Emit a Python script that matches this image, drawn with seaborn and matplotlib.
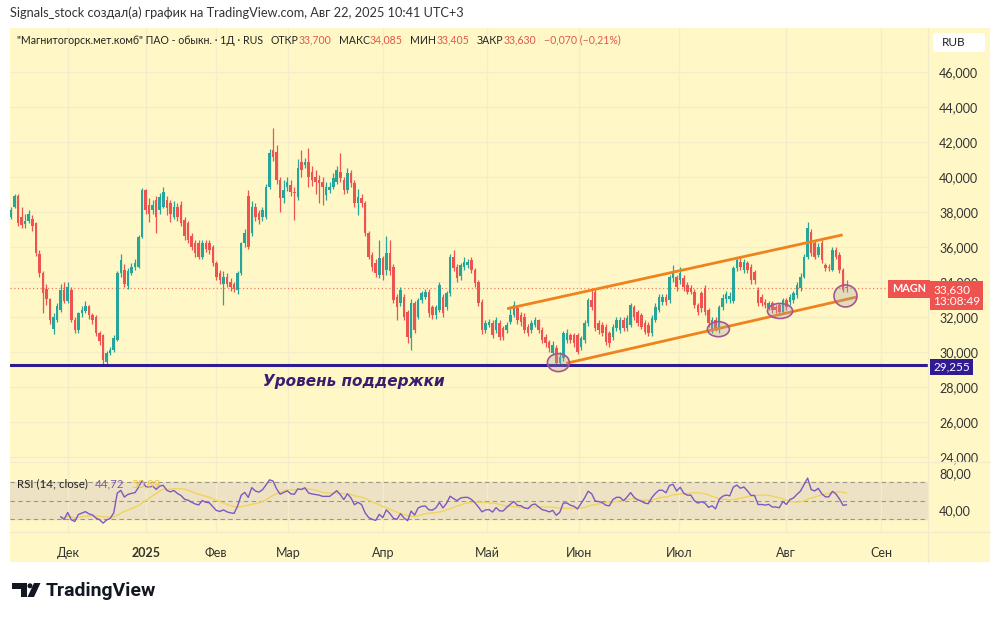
import matplotlib
matplotlib.use("Agg")
import matplotlib.pyplot as plt
from matplotlib.patches import Ellipse, Rectangle, Polygon, FancyBboxPatch
from matplotlib.lines import Line2D
from matplotlib.offsetbox import TextArea, HPacker, AnchoredOffsetbox
import numpy as np
import pandas as pd
import seaborn as sns

sns.set_theme(style="white")
plt.rcParams['font.family'] = ['Lato', 'DejaVu Sans']

# ======== data, daily bars ========
opens = [
    37.73, 38.30, 38.90, 37.70, 37.30, 37.50, 37.60, 37.35, 35.60, 34.50,
    33.60, 33.00, 31.30, 31.80, 32.40, 33.55, 32.90, 33.55, 31.83, 31.26,
    32.20, 32.35, 32.60, 32.10, 32.00, 31.07, 30.97, 29.45, 29.93, 30.10,
    30.70, 34.50, 34.70, 33.75, 34.50, 34.88, 34.88, 36.59, 39.26, 38.40,
    38.10, 38.70, 38.10, 38.30, 38.70, 38.50, 37.73, 38.30, 38.40, 37.55,
    37.35, 36.60, 36.20, 36.20, 35.45, 36.20, 36.20, 36.00, 35.07, 34.50,
    33.90, 34.30, 34.00, 33.90, 33.55, 34.50, 36.20, 38.90, 36.78, 38.30,
    37.92, 37.73, 37.73, 39.45, 41.54, 41.45, 39.83, 38.78, 39.45, 39.54,
    39.16, 38.88, 40.88, 40.69, 40.88, 40.30, 40.02, 39.83, 39.73, 38.97,
    39.26, 39.45, 39.73, 40.30, 39.83, 39.26, 40.21, 39.64, 38.50, 38.78,
    38.50, 36.78, 35.54, 35.07, 34.40, 35.35, 34.69, 35.64, 34.88, 33.16,
    32.78, 33.16, 32.30, 30.78, 32.78, 32.02, 32.97, 33.16, 33.45, 32.59,
    32.11, 32.40, 33.16, 32.59, 33.35, 35.45, 34.88, 34.31, 34.88, 34.97,
    35.26, 34.69, 34.02, 32.88, 31.26, 31.54, 31.64, 31.26, 31.64, 31.35,
    31.26, 31.73, 32.11, 32.49, 32.11, 32.02, 31.45, 31.26, 31.54, 31.83,
    31.26, 30.88, 30.59, 29.92, 30.21, 29.35, 29.64, 30.69, 30.97, 30.97,
    30.97, 30.30, 30.69, 31.64, 32.97, 33.45, 31.64, 31.54, 31.45, 31.07,
    30.88, 31.35, 31.26, 31.83, 31.35, 31.54, 32.59, 32.30, 32.11, 31.64,
    31.54, 31.07, 31.83, 32.40, 32.87, 33.16, 32.97, 34.21, 34.30, 34.11,
    34.21, 33.83, 33.64, 33.45, 32.68, 33.35, 33.64, 32.40, 31.26, 31.83,
    31.26, 32.55, 33.00, 33.00, 32.90, 34.78, 35.16, 34.69, 35.07, 34.88,
    34.59, 33.54, 33.16, 32.88, 32.50, 32.78, 32.59, 32.69, 32.30, 32.97,
    32.88, 32.97, 33.26, 33.64, 34.30, 35.45, 36.88, 36.21, 35.54, 36.21,
    34.97, 34.88, 34.69, 35.83, 35.54, 34.69, 33.70,
]
closes = [
    38.10, 38.90, 37.35, 37.25, 37.50, 37.90, 37.20, 35.64, 34.50, 33.35,
    33.00, 31.85, 32.00, 32.60, 33.55, 32.90, 33.70, 31.83, 31.26, 32.20,
    32.40, 32.60, 32.10, 31.83, 31.07, 30.60, 29.55, 29.93, 30.10, 30.78,
    34.50, 35.26, 33.90, 34.60, 34.88, 35.07, 36.59, 39.26, 38.10, 37.90,
    38.40, 37.73, 38.88, 39.15, 38.20, 37.90, 38.30, 37.73, 37.35, 36.60,
    36.40, 36.00, 35.64, 35.45, 36.20, 35.90, 35.80, 35.07, 34.30, 34.10,
    34.30, 33.90, 33.70, 33.60, 34.50, 36.20, 36.78, 36.00, 38.30, 37.73,
    37.54, 38.10, 39.45, 41.35, 41.16, 39.83, 38.78, 39.26, 39.73, 39.16,
    39.07, 40.50, 40.40, 40.88, 40.02, 39.83, 39.73, 39.64, 39.45, 39.45,
    39.45, 39.92, 40.40, 39.92, 39.26, 40.21, 39.64, 38.50, 38.88, 38.50,
    36.78, 35.45, 34.88, 34.50, 35.35, 34.40, 35.64, 34.60, 32.97, 32.59,
    33.54, 32.02, 30.88, 32.78, 31.26, 32.97, 33.35, 33.45, 32.21, 32.11,
    32.59, 33.83, 32.21, 33.35, 35.45, 34.78, 34.21, 34.97, 35.16, 35.16,
    34.69, 33.92, 32.78, 31.26, 31.64, 31.73, 30.97, 31.83, 30.88, 30.88,
    31.54, 32.11, 32.68, 31.83, 31.73, 31.26, 31.07, 31.64, 31.83, 31.26,
    30.69, 30.50, 30.21, 30.40, 29.35, 29.73, 31.07, 31.07, 30.69, 30.50,
    30.02, 30.78, 31.64, 32.97, 32.59, 31.35, 31.26, 31.07, 30.59, 30.50,
    31.45, 31.83, 31.83, 31.35, 31.92, 32.68, 32.02, 31.64, 31.45, 31.16,
    31.07, 31.92, 32.59, 33.16, 33.16, 32.87, 34.30, 34.50, 33.73, 34.50,
    33.73, 33.45, 33.45, 32.68, 32.30, 32.49, 32.30, 31.64, 31.83, 31.35,
    32.59, 33.10, 33.30, 33.20, 34.78, 35.26, 34.88, 35.16, 34.69, 34.11,
    34.11, 32.78, 32.78, 32.69, 32.78, 32.40, 32.40, 32.30, 32.97, 32.59,
    33.16, 33.35, 33.83, 34.30, 35.45, 37.07, 35.64, 35.45, 36.02, 35.26,
    34.78, 34.78, 35.83, 35.45, 34.69, 33.54, 33.63,
]
highs = [
    38.30, 39.05, 39.00, 38.30, 37.90, 38.10, 37.80, 37.45, 35.80, 34.60,
    33.90, 33.10, 32.20, 32.80, 33.90, 34.00, 34.00, 33.70, 32.00, 32.30,
    32.60, 32.90, 32.70, 32.20, 32.10, 31.20, 31.00, 30.05, 30.30, 30.95,
    34.60, 35.60, 35.00, 34.80, 35.10, 35.30, 36.70, 39.35, 39.30, 38.80,
    38.70, 38.90, 39.10, 39.45, 38.90, 38.70, 38.60, 38.50, 38.60, 37.70,
    37.50, 36.80, 36.40, 36.40, 36.40, 36.40, 36.40, 36.10, 35.20, 34.70,
    34.60, 34.50, 34.20, 34.00, 34.60, 36.30, 37.00, 39.26, 38.60, 38.50,
    38.10, 38.30, 39.60, 41.60, 42.78, 41.80, 40.00, 39.80, 40.00, 39.80,
    39.40, 41.00, 41.54, 41.10, 41.64, 40.60, 40.40, 40.10, 40.00, 39.70,
    39.70, 40.20, 40.60, 41.35, 40.00, 40.50, 40.40, 39.80, 39.30, 39.00,
    38.60, 36.90, 35.70, 35.30, 36.40, 35.50, 36.60, 36.40, 35.00, 33.30,
    33.70, 33.30, 32.40, 33.00, 32.90, 33.10, 33.50, 33.60, 33.60, 32.70,
    32.70, 34.00, 33.30, 33.50, 35.60, 35.80, 35.00, 35.10, 35.40, 35.30,
    35.40, 34.80, 34.10, 33.00, 31.80, 31.90, 31.80, 32.00, 31.80, 31.50,
    31.70, 32.60, 32.90, 32.60, 32.30, 32.20, 31.60, 31.80, 32.00, 31.90,
    31.40, 31.00, 30.70, 30.60, 30.40, 30.00, 31.20, 31.30, 31.10, 31.10,
    31.10, 30.90, 31.80, 33.10, 33.64, 33.64, 31.80, 31.70, 31.60, 31.20,
    31.60, 32.00, 32.00, 32.00, 32.10, 32.80, 32.70, 32.40, 32.20, 31.80,
    31.70, 32.10, 32.80, 33.30, 33.30, 33.30, 34.40, 34.97, 34.40, 34.88,
    34.40, 34.00, 33.80, 33.60, 32.80, 33.50, 33.80, 32.50, 32.00, 32.00,
    32.70, 33.30, 33.50, 33.40, 34.90, 35.45, 35.40, 35.30, 35.20, 35.00,
    34.70, 33.70, 33.30, 33.00, 32.90, 32.90, 32.70, 32.80, 33.10, 33.10,
    33.30, 33.50, 34.00, 34.50, 35.60, 37.45, 37.00, 36.40, 36.20, 36.40,
    35.10, 35.00, 36.00, 36.02, 35.70, 34.80, 34.085,
]
lows = [
    37.60, 38.20, 37.20, 37.10, 37.10, 37.35, 36.90, 35.50, 34.30, 32.20,
    32.70, 31.60, 31.05, 31.70, 32.30, 32.80, 32.80, 31.70, 31.10, 31.10,
    32.00, 32.20, 31.90, 31.60, 30.90, 30.40, 29.30, 29.30, 29.80, 30.00,
    30.60, 34.30, 33.70, 33.60, 34.40, 34.70, 34.80, 36.50, 37.90, 37.40,
    37.90, 36.80, 37.90, 38.20, 37.80, 37.40, 37.60, 37.50, 37.20, 36.40,
    36.20, 35.80, 35.40, 35.30, 35.30, 35.70, 35.60, 34.90, 34.10, 33.90,
    32.70, 33.70, 33.50, 33.40, 33.30, 34.40, 36.00, 35.90, 36.60, 37.50,
    37.30, 37.50, 37.60, 39.30, 40.90, 39.60, 38.00, 38.50, 39.20, 38.90,
    37.54, 38.70, 40.00, 40.50, 39.40, 39.50, 39.00, 38.50, 38.40, 38.70,
    39.10, 39.30, 39.60, 39.70, 39.00, 39.10, 39.40, 38.30, 37.80, 38.30,
    36.60, 35.30, 34.60, 34.30, 34.20, 34.10, 34.40, 34.40, 32.80, 31.80,
    32.60, 31.80, 30.50, 30.10, 31.10, 31.90, 32.80, 33.00, 32.00, 31.90,
    31.90, 32.30, 32.00, 32.40, 33.20, 34.60, 34.00, 34.10, 34.70, 34.80,
    34.50, 33.70, 32.60, 31.00, 31.10, 31.40, 30.80, 31.10, 30.70, 30.70,
    31.10, 31.60, 32.00, 31.60, 31.50, 31.10, 30.90, 31.10, 31.40, 31.10,
    30.50, 30.30, 30.00, 29.80, 29.25, 29.25, 29.50, 30.50, 30.50, 30.30,
    29.90, 30.10, 30.50, 31.50, 32.40, 31.20, 31.00, 30.90, 30.40, 30.30,
    30.70, 31.20, 31.10, 31.20, 31.20, 31.40, 31.80, 31.50, 31.30, 31.00,
    30.90, 30.90, 31.70, 32.30, 32.70, 32.70, 32.80, 34.00, 33.50, 33.90,
    33.50, 33.30, 33.30, 32.50, 32.10, 32.30, 32.10, 31.40, 31.10, 31.20,
    31.10, 32.40, 32.80, 32.80, 32.80, 34.60, 34.70, 34.50, 34.50, 33.90,
    33.90, 32.60, 32.60, 32.50, 32.40, 32.20, 32.20, 32.20, 32.20, 32.40,
    32.70, 32.80, 33.10, 33.50, 34.20, 35.30, 35.50, 35.30, 35.40, 35.10,
    34.60, 34.60, 34.60, 35.30, 34.50, 33.40, 33.405,
]

# month labels on the time scale (bar index where each month starts)
month_labels = ["Дек", "2025", "Фев", "Мар", "Апр", "Май", "Июн", "Июл", "Авг", "Сен"]
month_bars = [16.1, 38.1, 57.9, 78.2, 105.1, 134.5, 160.5, 188.7, 218.9, 245.8]

price_ticks = [24, 26, 28, 30, 32, 34, 36, 38, 40, 42, 44, 46]
support_level = 29.255
last_close = 33.63

# drawings on the chart: channel lines (bar, price) and circled lows
channel_upper = [(140.1, 32.47), (234.9, 36.69)]
channel_lower = [(156.8, 29.35), (238.9, 33.14)]
circle_bars = [154.6, 199.8, 217.2, 235.7]
circle_prices = [29.39, 31.30, 32.34, 33.20]
circle_w = [6.2, 6.2, 7.1, 6.5]
circle_h = [1.03, 0.86, 0.86, 1.26]

# ======== colors ========
BG = "#FFF8C6"
GRID = "#F3EDCB"
UP = "#26A69A"
DOWN = "#EF5350"
TXT = "#333333"
SUPPORT = "#311B92"

df = pd.DataFrame({"open": opens, "high": highs, "low": lows, "close": closes})
df["bar"] = np.arange(len(df))
df["up"] = df["close"] >= df["open"]

# RSI(14) Wilder + SMA 14 of RSI
delta = df["close"].diff()
gain = delta.clip(lower=0).ewm(alpha=1 / 14, min_periods=14).mean()
loss = (-delta.clip(upper=0)).ewm(alpha=1 / 14, min_periods=14).mean()
df["rsi"] = 100 - 100 / (1 + gain / loss)
df["rsi_ma"] = df["rsi"].rolling(14, min_periods=1).mean()


def fx(px):
    return px / 1000


def fy(py):
    return 1 - py / 619


fig = plt.figure(figsize=(10, 6.19), dpi=100)
fig.patch.set_facecolor("white")
fig.add_artist(Rectangle((fx(10), fy(562)), 0.98, 534 / 619, transform=fig.transFigure,
                         facecolor=BG, edgecolor="none", zorder=0))

ax = fig.add_axes([fx(10), fy(462), 0.918, 434 / 619])
ax_rsi = fig.add_axes([fx(10), fy(532), 0.918, 70 / 619], sharex=ax)
for a in (ax, ax_rsi):
    a.set_facecolor("none")
    for s in a.spines.values():
        s.set_visible(False)

# ======== candles ========
colors = np.where(df["up"], UP, DOWN)
ax.vlines(df["bar"], df["low"], df["high"], colors=colors, linewidth=0.9, zorder=3)
body_bottom = df[["open", "close"]].min(axis=1)
body_height = (df["close"] - df["open"]).abs().clip(lower=0.03)
ax.bar(df["bar"], body_height, bottom=body_bottom, width=0.72, color=colors,
       linewidth=0, zorder=4)

ax.set_xlim(-0.3, 259.0)
ax.set_ylim(23.71, 48.51)
ax.set_xticks(month_bars)
ax.tick_params(axis="x", labelbottom=False, length=0)
ax.yaxis.tick_right()
ax.set_yticks(price_ticks)
ax.set_yticklabels([f"{v:.3f}".replace(".", ",") for v in price_ticks])
ax.tick_params(axis="y", length=0, pad=8, labelsize=9, labelcolor=TXT)
ax.grid(True, color=GRID, linewidth=1.0, zorder=0)

# last price dotted line
ax.axhline(last_close, color="#EE7B5E", linestyle=(0, (1, 2)), linewidth=0.9, zorder=2)

# support level
ax.axhline(support_level, color=SUPPORT, linewidth=2.2, zorder=5)
ax.text(71.2, 28.29, "Уровень поддержки", family="DejaVu Sans", fontsize=11,
        fontweight="bold", fontstyle="italic", color="#3A1C71", va="center", ha="left",
        zorder=6)

# channel
for line in (channel_upper, channel_lower):
    ax.plot([p[0] for p in line], [p[1] for p in line], color="#F0821E", linewidth=2.0,
            solid_capstyle="butt", zorder=5)

# circled lows
for b, p, w, h in zip(circle_bars, circle_prices, circle_w, circle_h):
    ax.add_patch(Ellipse((b, p), w, h, facecolor=(0.62, 0.62, 0.66, 0.3),
                         edgecolor="#A8558F", linewidth=1.2, zorder=6))

# ======== RSI pane ========
ax_rsi.axhspan(30, 70, color="#EDE3C4", zorder=0)
for lvl in (70, 50, 30):
    ax_rsi.axhline(lvl, color="#9A968A", linewidth=0.8, linestyle=(0, (4, 3)), zorder=1)
sns.lineplot(data=df, x="bar", y="rsi_ma", ax=ax_rsi, color="#F2D35B", linewidth=1.0, zorder=2)
sns.lineplot(data=df, x="bar", y="rsi", ax=ax_rsi, color="#7E57C2", linewidth=1.0, zorder=3)
ax_rsi.set_ylim(16, 91.6)
ax_rsi.set_xlabel("")
ax_rsi.set_ylabel("")
ax_rsi.yaxis.tick_right()
ax_rsi.set_yticks([40, 80])
ax_rsi.set_yticklabels(["40,00", "80,00"])
ax_rsi.tick_params(axis="y", length=0, pad=8, labelsize=9, labelcolor=TXT)
ax_rsi.set_xticks(month_bars)
ax_rsi.set_xticklabels(month_labels)
ax_rsi.tick_params(axis="x", length=0, pad=11, labelsize=9, labelcolor=TXT)
ax_rsi.get_xticklabels()[1].set_fontweight("bold")
ax_rsi.grid(True, axis="x", color=GRID, linewidth=1.0, zorder=0)
ax_rsi.set_xlim(-0.3, 259.0)

# pane separators
for (x0, y0, x1, y1) in [(10, 462, 990, 462), (10, 532, 990, 532), (928, 28, 928, 562)]:
    fig.add_artist(Line2D([fx(x0), fx(x1)], [fy(y0), fy(y1)], transform=fig.transFigure,
                          color="#F1EBCB", linewidth=1.0))

# ======== texts ========
fig.text(fx(10), fy(13), "Signals_stock создал(а) график на TradingView.com, Авг 22, 2025 10:41 UTC+3",
         fontsize=9.2, color="#333333", va="center", ha="left")

dark = dict(color="#222222", fontsize=7.6)
red = dict(color="#E0574C", fontsize=7.6)
pairs = [("\"Магнитогорск.мет.комб\" ПАО - обыкн. · 1Д · RUS", None),
         ("ОТКР", "33,700"), ("МАКС", "34,085"), ("МИН", "33,405"), ("ЗАКР", "33,630")]
boxes = []
for lab, val in pairs:
    kids = [TextArea(lab, textprops=dark)]
    if val:
        kids.append(TextArea(val, textprops=red))
    boxes.append(HPacker(children=kids, sep=0, pad=0))
boxes.append(TextArea("−0,070 (−0,21%)", textprops=red))
legend = AnchoredOffsetbox(loc="center left", child=HPacker(children=boxes, sep=5.5, pad=0),
                           bbox_to_anchor=(fx(17), fy(40)), bbox_transform=fig.transFigure,
                           frameon=False, pad=0, borderpad=0)
fig.add_artist(legend)

rsi_leg = HPacker(children=[TextArea("RSI (14; close)", textprops=dict(color="#222222", fontsize=8.3)),
                            TextArea("44,72", textprops=dict(color="#7E57C2", fontsize=8.3)),
                            TextArea("50,89", textprops=dict(color="#E8C547", fontsize=8.3))],
                  sep=5, pad=0)
fig.add_artist(AnchoredOffsetbox(loc="center left", child=rsi_leg, bbox_to_anchor=(fx(17), fy(484)),
                                 bbox_transform=fig.transFigure, frameon=False, pad=0, borderpad=0))

# RUB box
fig.add_artist(FancyBboxPatch((fx(933), fy(52)), fx(52), 19 / 619, boxstyle="round,pad=0,rounding_size=0.004",
                              transform=fig.transFigure, facecolor="white", edgecolor="none"))
fig.text(fx(942), fy(42.5), "RUB", fontsize=8.5, color="#222222", va="center", ha="left")

# price labels on the scale
fig.text(fx(926), fy(289), "MAGN", fontsize=7.8, fontweight="bold", color="white", va="center",
         ha="right", bbox=dict(boxstyle="square,pad=0.35", facecolor="#EF5350", edgecolor="none"))
fig.text(fx(933), fy(295.5), "33,630\n13:08:49", fontsize=8.5, color="white", va="center", ha="left",
         linespacing=1.05, bbox=dict(boxstyle="square,pad=0.25", facecolor="#EF5350", edgecolor="none"))
fig.text(fx(933), fy(367), "29,255", fontsize=8.5, color="white", va="center", ha="left",
         bbox=dict(boxstyle="square,pad=0.25", facecolor=SUPPORT, edgecolor="none"))

# TradingView logo
ink = "#131722"
fig.add_artist(Polygon([(fx(x), fy(y)) for x, y in [(12, 583), (26.5, 583), (26.5, 597), (20.5, 597),
                                                   (20.5, 588.5), (12, 588.5)]],
                       transform=fig.transFigure, facecolor=ink, edgecolor="none"))
fig.add_artist(Polygon([(fx(x), fy(y)) for x, y in [(34, 583), (40.5, 583), (34, 597), (27.5, 597)]],
                       transform=fig.transFigure, facecolor=ink, edgecolor="none"))
fig.add_artist(Ellipse((fx(30), fy(585.8)), fx(5), 5 / 619, transform=fig.transFigure,
                       facecolor=ink, edgecolor="none"))
fig.text(fx(46), fy(591), "TradingView", family=["Roboto", "DejaVu Sans"], fontsize=14,
         fontweight="bold", color=ink, va="center", ha="left")

fig.savefig("out.png", dpi=100, facecolor="white")
plt.close(fig)
